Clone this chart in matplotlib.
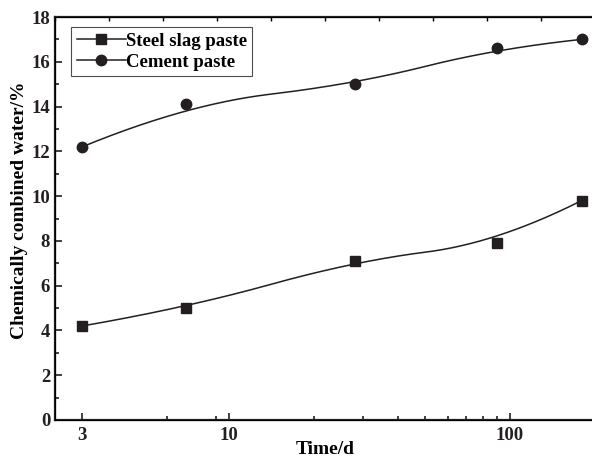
import matplotlib
matplotlib.use("Agg")
import matplotlib.pyplot as plt
from matplotlib.ticker import FixedLocator, NullFormatter, MultipleLocator
import numpy as np

plt.rcParams['font.family'] = ['Liberation Serif', 'DejaVu Serif']
plt.rcParams['font.weight'] = 'bold'

# data
days = [3, 7, 28, 90, 180]
steel_slag = [4.2, 5.0, 7.1, 7.9, 9.8]
cement = [12.2, 14.1, 15.0, 16.6, 17.0]

xticks = [3, 10, 100]
xtick_labels = ["3", "10", "100"]
xminor = [6, 9, 20, 30, 40, 50, 60, 70, 80, 90]


def bspline(xs, ys, n=300, k=2):
    # clamped B-spline with the points as control points (in log x)
    P = np.column_stack([np.log10(xs), ys])
    m = len(P)
    inner = np.linspace(0, 1, m - k + 1)[1:-1]
    t = np.concatenate([np.zeros(k + 1), inner, np.ones(k + 1)])
    u = np.linspace(0, 1, n)
    out = []
    for uu in u:
        if uu >= 1.0:
            out.append(P[-1])
            continue
        j = np.searchsorted(t, uu, side='right') - 1
        d = [P[j - k + i].copy() for i in range(k + 1)]
        for r in range(1, k + 1):
            for i in range(k, r - 1, -1):
                a = (uu - t[j - k + i]) / (t[j + 1 + i - r] - t[j - k + i])
                d[i] = (1 - a) * d[i - 1] + a * d[i]
        out.append(d[k])
    out = np.array(out)
    return 10 ** out[:, 0], out[:, 1]


fig = plt.figure(figsize=(5.92, 4.59), dpi=100)
ax = fig.add_axes([55 / 592, 39 / 459, 539.5 / 592, 403 / 459])

for ys, mk, ms, lab in [(steel_slag, 's', 6.5, 'Steel slag paste'),
                        (cement, 'o', 7.5, 'Cement paste')]:
    cx, cy = bspline(days, ys)
    ax.plot(cx, cy, color='#231f20', lw=1.1)
    ax.plot(days, ys, linestyle='none', marker=mk, ms=ms, color='#231f20')
    ax.plot([], [], color='#231f20', lw=1.1, marker=mk, ms=ms, label=lab)

ax.set_xscale('log')
ax.set_xlim(2.4, 200)
ax.set_ylim(0, 18)
ax.xaxis.set_major_locator(FixedLocator(xticks))
ax.set_xticklabels(xtick_labels)
ax.xaxis.set_minor_locator(FixedLocator(xminor))
ax.xaxis.set_minor_formatter(NullFormatter())
ax.yaxis.set_major_locator(MultipleLocator(2))
ax.yaxis.set_minor_locator(MultipleLocator(1))

ax.tick_params(which='both', direction='in', width=1.2, labelsize=13.5, colors='#231f20')
ax.tick_params(which='major', length=5)
ax.tick_params(which='minor', length=3)
ax.tick_params(axis='x', pad=5)
for lbl in ax.get_xticklabels() + ax.get_yticklabels():
    lbl.set_fontweight('bold')
for s in ax.spines.values():
    s.set_linewidth(1.6)
    s.set_color('#231f20')

# top axis carries plain linear ticks
top = ax.twiny()
top.set_xlim(0, 10)
top.xaxis.set_major_locator(MultipleLocator(1))
top.xaxis.set_major_formatter(NullFormatter())
top.tick_params(axis='x', direction='in', length=3, width=1.0)

ax.set_xlabel('Time/d', fontsize=14, fontweight='bold', labelpad=-2)
ax.set_ylabel('Chemically combined water/%', fontsize=14, fontweight='bold')
ax.yaxis.set_label_coords(-0.05, 0.52)

leg = ax.legend(loc='upper left', bbox_to_anchor=(0.03, 0.975), fontsize=13.5,
                frameon=True, fancybox=False, edgecolor='#231f20', handlelength=2.6,
                handletextpad=0.0, borderpad=0.3, labelspacing=0.2, borderaxespad=0)
leg.get_frame().set_linewidth(0.8)
for t in leg.get_texts():
    t.set_fontweight('bold')

fig.savefig('out.png', dpi=100)
